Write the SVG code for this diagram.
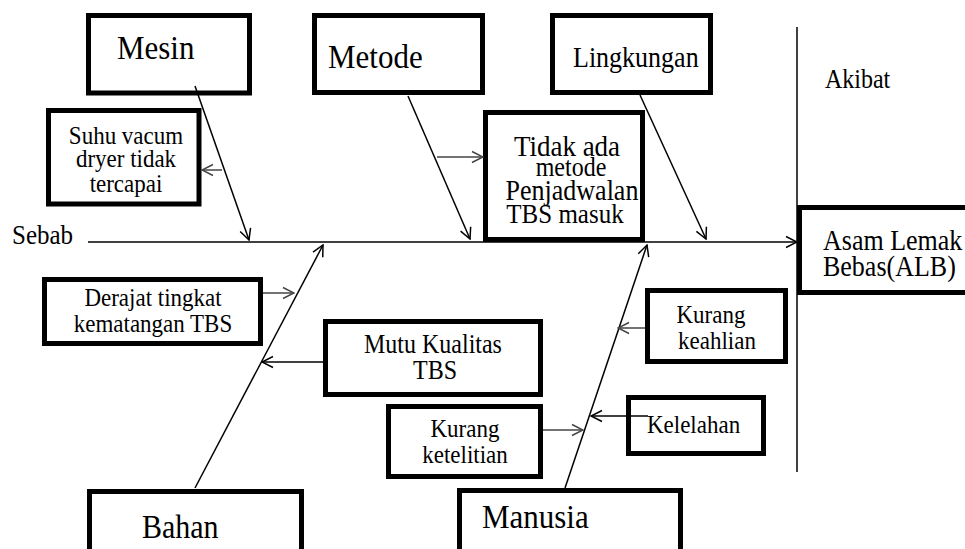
<svg xmlns="http://www.w3.org/2000/svg" width="965" height="549" viewBox="0 0 965 549">
<style>
.box{fill:#fff;stroke:#000;stroke-width:5}
.t{fill:#000}
.c{text-anchor:middle}
.ln{stroke:#000;stroke-width:1.5;fill:none}
.lg{stroke:#444;stroke-width:1.5;fill:none}
</style>
<defs>
<marker id="ab" markerUnits="userSpaceOnUse" markerWidth="14" markerHeight="14" viewBox="0 0 14 14" refX="13" refY="7" orient="auto">
<path d="M2,1.5 L13,7 L2,12.5" fill="none" stroke="#000" stroke-width="1.5"/>
</marker>
<marker id="ag" markerUnits="userSpaceOnUse" markerWidth="14" markerHeight="14" viewBox="0 0 14 14" refX="13" refY="7" orient="auto">
<path d="M2,1.5 L13,7 L2,12.5" fill="none" stroke="#444" stroke-width="1.5"/>
</marker>
</defs>
<rect width="965" height="549" fill="#fff"/>
<g font-family="Liberation Serif, Times New Roman, DejaVu Serif, serif">
<g id="mesin"><rect class="box" x="88.5" y="15.5" width="161" height="77.5"/><text class="t" x="117" y="59" font-size="31" transform="matrix(1 0 0 1.1 0 -5.9)">Mesin</text></g>
<g id="metode"><rect class="box" x="314.5" y="15.5" width="168" height="77"/><text class="t" x="328" y="68" font-size="31" transform="matrix(1 0 0 1.1 0 -6.8)">Metode</text></g>
<g id="lingkungan"><rect class="box" x="552.5" y="15.5" width="158" height="77"/><text class="t" x="573" y="67" font-size="26" transform="matrix(1 0 0 1.1 0 -6.7)">Lingkungan</text></g>
<g id="akibat"><text class="t" x="825" y="88" font-size="24" transform="matrix(1 0 0 1.1 0 -8.8)">Akibat</text></g>
<g id="sebab"><text class="t" x="12" y="244" font-size="25" transform="matrix(1 0 0 1.1 0 -24.4)">Sebab</text></g>
<g id="suhu" font-size="23"><rect class="box" x="48.5" y="110.5" width="150.5" height="93.5"/>
<text class="t c" x="126" y="144" transform="matrix(1 0 0 1.1 0 -14.4)">Suhu vacum</text>
<text class="t c" x="126" y="167" transform="matrix(1 0 0 1.1 0 -16.7)">dryer tidak</text>
<text class="t c" x="126" y="192" transform="matrix(1 0 0 1.1 0 -19.2)">tercapai</text></g>
<g id="tidak"><rect class="box" x="485.5" y="112.5" width="157" height="127"/>
<text class="t c" x="567" y="156" font-size="27" transform="matrix(1 0 0 1.1 0 -15.6)">Tidak ada</text>
<text class="t c" x="571" y="176" font-size="24" transform="matrix(1 0 0 1.1 0 -17.6)">metode</text>
<text class="t c" x="572" y="200" font-size="26" transform="matrix(1 0 0 1.1 0 -20)">Penjadwalan</text>
<text class="t c" x="565" y="223" font-size="25" transform="matrix(1 0 0 1.1 0 -22.3)">TBS masuk</text></g>
<g id="alb" font-size="26"><rect class="box" x="799.5" y="207.5" width="170" height="85"/>
<text class="t" x="823" y="250" transform="matrix(1 0 0 1.1 0 -25)">Asam Lemak</text>
<text class="t" x="823" y="276" transform="matrix(1 0 0 1.1 0 -27.6)">Bebas(ALB)</text></g>
<g id="derajat" font-size="23"><rect class="box" x="44.5" y="279.5" width="216" height="64"/>
<text class="t c" x="153" y="306" transform="matrix(1 0 0 1.1 0 -30.6)">Derajat tingkat</text>
<text class="t c" x="153" y="332" transform="matrix(1 0 0 1.1 0 -33.2)">kematangan TBS</text></g>
<g id="mutu" font-size="24"><rect class="box" x="325.5" y="321.5" width="215" height="73"/>
<text class="t c" x="433" y="353" transform="matrix(1 0 0 1.1 0 -35.3)">Mutu Kualitas</text>
<text class="t c" x="435" y="379" transform="matrix(1 0 0 1.1 0 -37.9)">TBS</text></g>
<g id="keahlian" font-size="23"><rect class="box" x="647.5" y="290.5" width="138" height="71"/>
<text class="t c" x="711" y="323" transform="matrix(1 0 0 1.1 0 -32.3)">Kurang</text>
<text class="t c" x="717" y="349" transform="matrix(1 0 0 1.1 0 -34.9)">keahlian</text></g>
<g id="kelelahan"><rect class="box" x="628.5" y="397.5" width="135" height="56"/><text class="t" x="647" y="433" font-size="23" transform="matrix(1 0 0 1.1 0 -43.3)">Kelelahan</text></g>
<g id="ketelitian" font-size="23"><rect class="box" x="388.5" y="406.5" width="152" height="70"/>
<text class="t c" x="465" y="437" transform="matrix(1 0 0 1.1 0 -43.7)">Kurang</text>
<text class="t c" x="465" y="463" transform="matrix(1 0 0 1.1 0 -46.3)">ketelitian</text></g>
<g id="bahan"><rect class="box" x="89.5" y="491.5" width="212" height="70"/><text class="t" x="142" y="538" font-size="30" transform="matrix(1 0 0 1.1 0 -53.8)">Bahan</text></g>
<g id="manusia"><rect class="box" x="459.5" y="490.5" width="221" height="70"/><text class="t" x="482" y="528" font-size="31" transform="matrix(1 0 0 1.1 0 -52.8)">Manusia</text></g>
</g>
<g id="connectors">
<line class="ln" x1="797" y1="27" x2="797" y2="472" stroke-width="2"/>
<line class="ln" x1="88" y1="242" x2="797" y2="242" marker-end="url(#ab)"/>
<line class="ln" x1="195" y1="86" x2="249" y2="240" marker-end="url(#ab)"/>
<line class="ln" x1="408" y1="96" x2="470" y2="239" marker-end="url(#ab)"/>
<line class="ln" x1="640" y1="95" x2="706" y2="239" marker-end="url(#ab)"/>
<line class="ln" x1="195" y1="488" x2="323" y2="245" marker-end="url(#ab)"/>
<line class="ln" x1="565" y1="488" x2="647" y2="245" marker-end="url(#ab)"/>
<line class="lg" x1="222" y1="170" x2="202" y2="170" marker-end="url(#ag)"/>
<line class="lg" x1="437" y1="157" x2="483" y2="157" marker-end="url(#ag)"/>
<line class="lg" x1="263" y1="293" x2="294" y2="293" marker-end="url(#ag)"/>
<line class="ln" x1="323" y1="362" x2="262" y2="362" marker-end="url(#ab)"/>
<line class="lg" x1="543" y1="430" x2="583" y2="430" marker-end="url(#ag)"/>
<line class="ln" x1="648" y1="416" x2="591" y2="416" marker-end="url(#ab)"/>
<line class="lg" x1="645" y1="328" x2="618" y2="328" marker-end="url(#ag)"/>
</g>
</svg>
